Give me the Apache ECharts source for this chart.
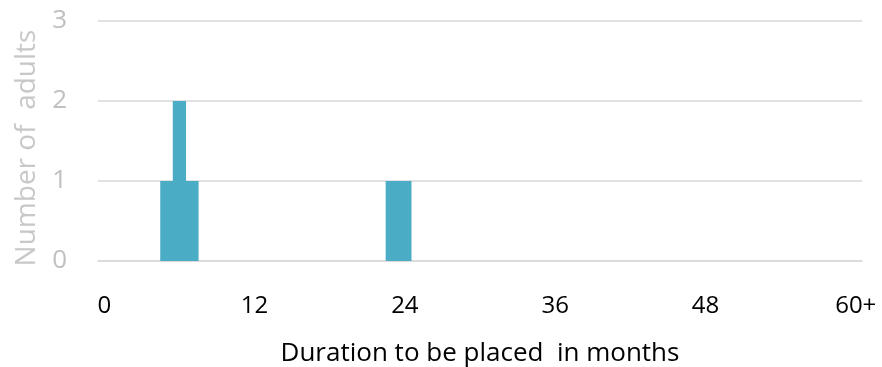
<!DOCTYPE html>
<html>
<head>
<meta charset="utf-8">
<script src="https://cdn.jsdelivr.net/npm/echarts@6/dist/echarts.min.js"></script>
<style>html,body{margin:0;padding:0;background:#fff;}#c{width:882px;height:367px;}</style>
</head>
<body>
<div id="c"></div>
<script>
// Data
const monthBins = [5, 6, 7, 23, 24];
const adultCounts = [1, 2, 1, 1, 1];
const tickLabels = {0: '0', 12: '12', 24: '24', 36: '36', 48: '48', 60: '60+'};
const maxMonth = 60;
const yTicks = [0, 1, 2, 3];

const categories = [];
for (let m = 0; m <= maxMonth; m++) categories.push(String(m));
const seriesData = monthBins.map((m, i) => [String(m), adultCounts[i]]);

const chart = echarts.init(document.getElementById('c'), null, {renderer: 'canvas'});
chart.setOption({
  animation: false,
  grid: {left: 98, right: 20, top: 21, bottom: 106, containLabel: false, outerBoundsMode: 'none'},
  xAxis: {
    type: 'category',
    data: categories,
    boundaryGap: true,
    name: 'Duration to be placed  in months',
    nameLocation: 'middle',
    nameGap: 80,
    nameTextStyle: {fontFamily: 'Open Sans', fontSize: 26, color: '#000'},
    axisLine: {show: true, lineStyle: {color: '#d9d9d9', width: 1.5}},
    axisTick: {show: false},
    axisLabel: {
      interval: 0,
      margin: 33,
      fontFamily: 'Open Sans', fontSize: 24, color: '#000',
      formatter: (v) => tickLabels[v] !== undefined ? tickLabels[v] : ''
    },
    splitLine: {show: false}
  },
  yAxis: {
    type: 'value',
    min: yTicks[0], max: yTicks[yTicks.length - 1], interval: 1,
    axisLine: {show: false},
    axisTick: {show: false},
    axisLabel: {margin: 31, fontFamily: 'Open Sans', fontSize: 26, color: '#c0c0c0'},
    splitLine: {lineStyle: {color: '#d9d9d9', width: 1.5}}
  },
  graphic: [{
    type: 'text',
    x: 27, y: 148,
    rotation: Math.PI / 2,
    style: {
      text: 'Number of  adults',
      fontFamily: 'Open Sans', fontSize: 28, fill: '#c8c8c8',
      align: 'center', verticalAlign: 'middle'
    }
  }],
  series: [{
    type: 'bar',
    data: seriesData,
    barWidth: 13.3,
    itemStyle: {color: '#4bacc6'}
  }]
});
</script>
</body>
</html>
